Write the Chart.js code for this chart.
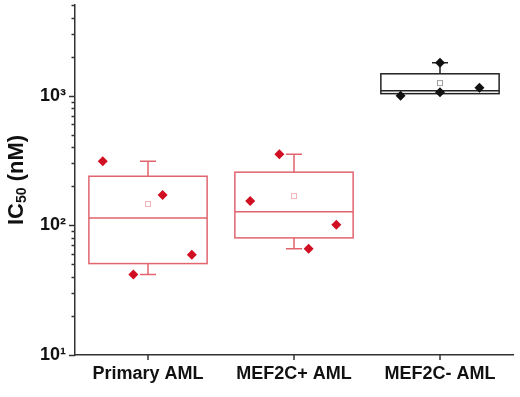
<!DOCTYPE html>
<html lang="en">

<head>
    <meta charset="UTF-8">
    <title>IC50 box plot</title>
    <script src="https://cdn.jsdelivr.net/npm/chart.js"></script>
    <style>
        body {
            margin: 0;
            background: #fff;
        }
    </style>
</head>

<body>
    <canvas id="boxChart" width="520" height="397"></canvas>
    <script>
        // groups and box statistics (nM)
        const groups = ['Primary AML', 'MEF2C+ AML', 'MEF2C- AML'];
        const q1 = [50.7, 80, 1036];
        const median = [114, 127, 1092];
        const q3 = [239, 257, 1474];
        const whiskerLow = [41.7, 66, 1036];
        const whiskerHigh = [312, 353, 1790];
        const means = [146, 168, 1250];
        const points = [
            [312, 171, 59.4, 41.7],
            [353, 154, 101, 66],
            [1790, 1000, 1060, 1150]
        ];
        // horizontal spread of the dots around each group centre
        const jitter = [
            [-0.31, 0.10, 0.30, -0.10],
            [-0.10, -0.30, 0.29, 0.10],
            [0, -0.27, 0, 0.27]
        ];
        const yTicks = [10, 20, 30, 40, 50, 60, 70, 80, 90, 100, 200, 300, 400, 500, 600, 700, 800, 900, 1000, 2000, 3000, 4000, 5000];
        const yLabels = { 10: '10\u00B9', 100: '10\u00B2', 1000: '10\u00B3' };

        const boxColors = ['#e2646e', '#e2646e', '#222222'];
        const meanColors = ['#f0b4b8', '#f0b4b8', '#a0a0a0'];
        const dotColors = ['#d10f22', '#d10f22', '#111111'];
        const FONT = "'Liberation Sans', Arial, sans-serif";

        // box, whiskers, median and mean (no native box plot in Chart.js)
        const boxPlugin = {
            id: 'boxes',
            beforeDatasetsDraw(chart) {
                const ctx = chart.ctx;
                const xs = chart.scales.x, ys = chart.scales.y;
                ctx.save();
                groups.forEach((g, i) => {
                    const xc = xs.getPixelForValue(i);
                    const half = xs.getPixelForValue(i + 0.405) - xc;
                    const cap = xs.getPixelForValue(i + 0.055) - xc;
                    const yq1 = ys.getPixelForValue(q1[i]);
                    const yq3 = ys.getPixelForValue(q3[i]);
                    const ymed = ys.getPixelForValue(median[i]);
                    const ylo = ys.getPixelForValue(whiskerLow[i]);
                    const yhi = ys.getPixelForValue(whiskerHigh[i]);
                    ctx.strokeStyle = boxColors[i];
                    ctx.lineWidth = 1.5;
                    ctx.strokeRect(xc - half, yq3, 2 * half, yq1 - yq3);
                    ctx.beginPath();
                    ctx.moveTo(xc - half, ymed);
                    ctx.lineTo(xc + half, ymed);
                    if (yhi < yq3 - 0.5) {
                        ctx.moveTo(xc, yq3);
                        ctx.lineTo(xc, yhi);
                        ctx.moveTo(xc - cap, yhi);
                        ctx.lineTo(xc + cap, yhi);
                    }
                    if (ylo > yq1 + 0.5) {
                        ctx.moveTo(xc, yq1);
                        ctx.lineTo(xc, ylo);
                        ctx.moveTo(xc - cap, ylo);
                        ctx.lineTo(xc + cap, ylo);
                    }
                    ctx.stroke();
                    const ym = ys.getPixelForValue(means[i]);
                    ctx.strokeStyle = meanColors[i];
                    ctx.lineWidth = 1;
                    ctx.strokeRect(xc - 2.5, ym - 2.5, 5, 5);
                });
                ctx.restore();
            },
            afterDraw(chart) {
                const ctx = chart.ctx;
                const xs = chart.scales.x, ys = chart.scales.y;
                const area = chart.chartArea;
                ctx.save();
                ctx.strokeStyle = '#333';
                ctx.lineWidth = 1.5;
                ctx.beginPath();
                // outward tick marks, long on decades
                yTicks.forEach(v => {
                    const y = Math.round(ys.getPixelForValue(v)) + 0.5;
                    const len = yLabels[v] ? 6 : 3.5;
                    ctx.moveTo(area.left - len, y);
                    ctx.lineTo(area.left, y);
                });
                groups.forEach((g, i) => {
                    const x = xs.getPixelForValue(i);
                    ctx.moveTo(x, area.bottom);
                    ctx.lineTo(x, area.bottom + 5);
                });
                ctx.stroke();

                // y title with subscript
                ctx.fillStyle = '#111';
                ctx.translate(23, (area.top + area.bottom) / 2);
                ctx.rotate(-Math.PI / 2);
                ctx.textBaseline = 'alphabetic';
                ctx.textAlign = 'left';
                const big = 'bold 22px ' + FONT, small = 'bold 14px ' + FONT;
                ctx.font = big;
                const w1 = ctx.measureText('IC').width;
                const w3 = ctx.measureText(' (nM)').width;
                ctx.font = small;
                const w2 = ctx.measureText('50').width;
                let x0 = -(w1 + w2 + w3) / 2;
                ctx.font = big;
                ctx.fillText('IC', x0, 0);
                ctx.font = small;
                ctx.fillText('50', x0 + w1, 3);
                ctx.font = big;
                ctx.fillText(' (nM)', x0 + w1 + w2, 0);
                ctx.restore();
            }
        };

        const ctx = document.getElementById('boxChart').getContext('2d');
        const myChart = new Chart(ctx, {
            type: 'scatter',
            data: {
                datasets: groups.map((g, i) => ({
                    label: g,
                    data: points[i].map((v, k) => ({ x: i + jitter[i][k], y: v })),
                    pointStyle: 'rectRot',
                    pointRadius: 5,
                    pointBorderWidth: 0,
                    backgroundColor: dotColors[i],
                    borderColor: dotColors[i]
                }))
            },
            options: {
                responsive: false,
                animation: false,
                layout: { padding: { top: 3, right: 7, left: 0, bottom: 0 } },
                plugins: {
                    legend: { display: false },
                    tooltip: { enabled: false }
                },
                scales: {
                    x: {
                        type: 'linear',
                        min: -0.5,
                        max: 2.5,
                        afterBuildTicks: scale => {
                            scale.ticks = groups.map((g, i) => ({ value: i }));
                        },
                        afterFit: scale => {
                            scale.height = 42;
                            scale.paddingLeft = 0;
                            scale.paddingRight = 0;
                        },
                        grid: { display: false, drawTicks: false },
                        border: { display: true, color: '#333', width: 1.5 },
                        ticks: {
                            padding: 8,
                            color: '#111',
                            font: { family: FONT, size: 18, weight: 'bold' },
                            callback: (v) => groups[v]
                        }
                    },
                    y: {
                        type: 'logarithmic',
                        min: 10,
                        max: 5000,
                        afterBuildTicks: scale => {
                            scale.ticks = yTicks.map(v => ({ value: v, major: !!yLabels[v] }));
                        },
                        afterFit: scale => {
                            scale.width = 75;
                            scale.paddingTop = 0;
                            scale.paddingBottom = 0;
                        },
                        grid: { display: false, drawTicks: false },
                        border: { display: true, color: '#333', width: 1.5 },
                        ticks: {
                            padding: 9,
                            autoSkip: false,
                            color: '#111',
                            font: { family: FONT, size: 18, weight: 'bold' },
                            callback: (v) => yLabels[v] || ''
                        }
                    }
                }
            },
            plugins: [boxPlugin]
        });
    </script>
</body>

</html>
